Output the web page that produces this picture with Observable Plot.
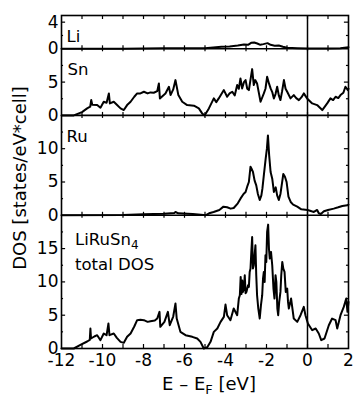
<!DOCTYPE html>
<html><head><meta charset="utf-8">
<script src="https://cdn.jsdelivr.net/npm/d3@7"></script>
<script src="https://cdn.jsdelivr.net/npm/@observablehq/plot@0.6"></script>
<style>
body{margin:0;background:#fff;}
svg{font-family:"DejaVu Sans",sans-serif;}
</style>
</head><body><div id="chart"></div>
<script>
// ---- data (E - E_F in eV, DOS in states/eV*cell) ----
const liE = [-12,-9,-8,-7,-6,-5,-4.6,-4.2,-3.8,-3.4,-3.1,-2.9,-2.75,-2.6,-2.45,-2.3,-2.15,-1.95,-1.8,-1.6,-1.4,-1.2,-1.0,-0.5,0,1,1.6,2];
const liDOS = [0,0,0.05,0.1,0.1,0.1,0.2,0.3,0.35,0.5,0.65,0.6,0.9,0.95,0.8,0.6,0.7,0.85,0.6,0.45,0.5,0.3,0.15,0.1,0.05,0.05,0.1,0.25];

const snE = [-12,-11.4,-11.0,-10.75,-10.6,-10.55,-10.5,-10.26,-10.1,-9.94,-9.8,-9.69,-9.64,-9.45,-9.3,-9.12,-8.96,-8.8,-8.63,-8.45,-8.31,-8.15,-7.98,-7.8,-7.66,-7.5,-7.33,-7.25,-7.2,-6.93,-6.76,-6.68,-6.55,-6.44,-6.3,-6.11,-5.87,-5.54,-5.3,-5.14,-5.02,-4.81,-4.57,-4.45,-4.33,-4.08,-3.92,-3.8,-3.67,-3.55,-3.43,-3.35,-3.27,-3.19,-3.1,-3.02,-2.94,-2.86,-2.7,-2.62,-2.55,-2.46,-2.38,-2.29,-2.13,-2.05,-1.97,-1.88,-1.8,-1.72,-1.64,-1.56,-1.48,-1.4,-1.32,-1.24,-1.15,-1.07,-0.99,-0.83,-0.67,-0.55,-0.42,-0.3,-0.18,-0.02,0.23,0.47,0.72,0.96,1.12,1.25,1.37,1.5,1.61,1.75,1.85,1.97,2.0];
const snDOS = [0,0,0.5,1.05,1.3,2.3,1.6,1.55,1.15,2.05,1.9,3.3,1.8,2.05,1.6,1.05,0.8,1.55,2.05,2.8,3.3,3.3,3.55,3.3,3.45,3.4,3.65,4.8,2.55,3.3,4.3,3.05,3.9,5.3,3.05,2.05,1.55,1.45,1.05,0.3,0,1.05,2.55,2.0,2.55,3.8,2.8,3.3,3.55,3.0,4.55,4.0,5.55,4.05,5.0,5.3,4.0,3.8,6.95,4.55,5.3,4.8,3.5,2.05,3.3,4.0,5.8,4.8,4.05,3.5,2.55,3.2,4.3,3.0,2.3,3.6,5.3,4.0,3.55,2.55,3.05,2.6,2.3,2.7,3.3,2.55,1.8,1.55,0.8,1.8,2.55,2.3,2.8,2.6,3.05,3.4,4.3,3.8,4.0];

const ruE = [-12,-9,-8,-7,-6.5,-6.44,-6.3,-5.6,-5.2,-4.98,-4.8,-4.58,-4.3,-4.1,-3.92,-3.75,-3.6,-3.4,-3.27,-3.12,-3.02,-2.92,-2.86,-2.78,-2.73,-2.66,-2.58,-2.5,-2.42,-2.33,-2.25,-2.2,-2.12,-2.04,-1.98,-1.93,-1.87,-1.8,-1.72,-1.64,-1.55,-1.48,-1.4,-1.32,-1.26,-1.18,-1.1,-1.02,-0.93,-0.82,-0.7,-0.5,-0.3,0,0.2,0.31,0.47,0.55,0.65,0.8,1.0,1.28,1.5,1.7,1.94,2];
const ruDOS = [0,0.05,0.15,0.25,0.35,0.5,0.3,0.2,0.1,0,0.3,0.5,0.8,1.3,1.2,1.0,1.1,1.8,2.5,3.2,3.5,4.5,5.0,7.3,7.0,6.5,5.2,4.5,3.2,2.3,3.0,4.0,6.3,8.5,10,12.0,9.0,6.5,5.5,3.5,4.2,3.0,2.3,3.2,4.5,6.2,5.8,5.0,2.8,2.0,1.6,1.3,0.9,0.8,0.6,0.5,0.8,0.3,0.2,0.6,0.8,1.0,1.2,1.4,1.5,1.6];

const totE = [-12,-11.4,-11.1,-10.75,-10.62,-10.59,-10.56,-10.4,-10.26,-10.1,-9.94,-9.8,-9.71,-9.66,-9.45,-9.3,-9.12,-8.96,-8.8,-8.63,-8.45,-8.31,-8.15,-7.98,-7.8,-7.66,-7.45,-7.33,-7.22,-7.18,-6.98,-6.81,-6.72,-6.55,-6.44,-6.38,-6.2,-5.95,-5.62,-5.38,-5.22,-5.06,-4.89,-4.73,-4.57,-4.4,-4.24,-4.08,-4.0,-3.92,-3.76,-3.6,
  -3.43,-3.35,-3.3,-3.26,-3.22,-3.18,-3.15,-3.1,-3.06,-3.02,-2.98,-2.9,-2.86,-2.82,-2.78,-2.74,-2.7,-2.66,-2.62,-2.58,-2.54,-2.5,-2.46,-2.4,-2.33,-2.27,-2.21,-2.17,-2.13,-2.09,-2.05,-2.01,-1.97,-1.92,-1.88,-1.84,-1.78,-1.72,-1.66,-1.61,-1.56,-1.52,-1.47,-1.43,-1.38,-1.32,-1.28,-1.23,-1.18,-1.12,-1.06,-0.99,-0.95,-0.91,
  -0.8,-0.67,-0.5,-0.34,-0.18,-0.1,0.02,0.23,0.4,0.55,0.67,0.83,1.04,1.2,1.37,1.45,1.61,1.77,1.89,1.95,2.0];
const totDOS = [0,0,0.5,1.05,1.3,3.0,1.5,1.8,2.0,1.25,2.25,2.0,3.75,2.0,2.25,1.6,1.0,0.85,1.75,2.25,3.3,4.25,4.3,4.25,4.0,4.1,4.2,4.5,5.5,3.25,4.0,5.5,3.5,4.8,6.75,4.5,2.5,2.0,1.75,1.5,1.0,0,0.2,1.0,2.5,3.0,4.0,4.75,6.6,5.0,4.25,6.0,
  5.0,7.5,8.0,10.75,8.2,10.2,8.5,9.0,11.0,8.3,8.5,9.5,9.25,11.5,12.0,14.5,16.75,12.0,12.5,14.0,15.5,11.0,8.0,6.0,4.5,6.5,8.0,10.5,11.5,10.0,14.0,13.0,17.5,18.6,15.0,13.5,14.5,12.5,9.0,7.5,11.0,10.0,6.0,5.0,7.0,8.5,11.0,13.0,12.0,11.5,8.5,9.0,7.0,6.0,
  7.5,4.5,4.0,5.0,6.25,5.0,3.75,2.75,3.0,2.25,1.25,1.5,3.5,4.5,4.25,3.0,5.0,6.25,7.5,5.5,7.0];

const xTickLabels = [-12,-10,-8,-6,-4,-2,0,2];
const xMinorTicks = [-11,-10,-9,-8,-7,-6,-5,-4,-3,-2,-1,0,1];
const liTicks = [0,4], snTicks = [0,5], ruTicks = [0,5,10], totTicks = [0,5,10,15];
const panelNames = ["Li","Sn","Ru"];

// ---- stacked layout (each panel shares the same DOS unit scale) ----
const heights = {tot:20, ru:15, sn:10, li:5};
const off = {tot:0, ru:20, sn:35, li:45};
const yTop = 50;

const rows = (E, V, o) => E.map((e,i)=>({E:e, y:V[i]+o}));

const yTickPos = [], yTickTxt = [];
function addTicks(ts, o){ ts.forEach(t=>{ yTickPos.push(o+t); yTickTxt.push(String(t)); }); }
addTicks(totTicks, off.tot); addTicks(ruTicks, off.ru); addTicks(snTicks, off.sn); addTicks(liTicks, off.li);
const labelOf = new Map(yTickPos.map((p,i)=>[p, yTickTxt[i]]));

const majorY = yTickPos.filter(p=>![0,20,35,45].includes(p));
const minorY = [];
[[totTicks,off.tot,heights.tot],[ruTicks,off.ru,heights.ru],[snTicks,off.sn,heights.sn]].forEach(([ts,o,h])=>{
  ts.forEach(t=>{ if (t+2.5 < h) minorY.push(o+t+2.5); });
});
minorY.push(off.li+2);

const boundaries = [off.ru, off.sn, off.li];
const xTickRows = [];
boundaries.forEach(b=> xMinorTicks.forEach(x=> xTickRows.push({x, y1:b-0.45, y2:b+0.45})));
xMinorTicks.forEach(x=> xTickRows.push({x, y1:yTop-0.6, y2:yTop}));
xMinorTicks.forEach(x=> xTickRows.push({x, y1:0, y2:0.6}));

const lw = 2;
const plot = Plot.plot({
  width: 354, height: 400,
  marginLeft: 61, marginRight: 6, marginTop: 15, marginBottom: 52,
  style: {fontSize: "17px", fontFamily: "DejaVu Sans, sans-serif", background: "#fff", color: "#000", overflow: "visible"},
  x: {domain: [-12, 2], ticks: xTickLabels, tickSize: 0, tickPadding: 5, tickFormat: d=>String(d), label: null},
  y: {domain: [0, yTop], ticks: yTickPos, tickSize: 0, tickPadding: 3, tickFormat: d=>labelOf.get(d), label: null},
  marks: [
    Plot.line(rows(totE, totDOS, off.tot), {x:"E", y:"y", stroke:"#000", strokeWidth: lw, strokeLinejoin:"round"}),
    Plot.line(rows(ruE, ruDOS, off.ru), {x:"E", y:"y", stroke:"#000", strokeWidth: lw, strokeLinejoin:"round"}),
    Plot.line(rows(snE, snDOS, off.sn), {x:"E", y:"y", stroke:"#000", strokeWidth: lw, strokeLinejoin:"round"}),
    Plot.line(rows(liE, liDOS, off.li), {x:"E", y:"y", stroke:"#000", strokeWidth: lw, strokeLinejoin:"round"}),
    Plot.ruleY(boundaries, {stroke:"#000", strokeWidth: 1.6}),
    Plot.ruleX([0], {stroke:"#000", strokeWidth: 1.5}),
    Plot.ruleX(xTickRows, {x:"x", y1:"y1", y2:"y2", stroke:"#000", strokeWidth: 1.2}),
    Plot.ruleY(majorY, {x1:-12, x2:-11.8, stroke:"#000", strokeWidth: 1.2}),
    Plot.ruleY(majorY, {x1:1.8, x2:2, stroke:"#000", strokeWidth: 1.2}),
    Plot.ruleY(minorY, {x1:-12, x2:-11.9, stroke:"#000", strokeWidth: 1.2}),
    Plot.ruleY(minorY, {x1:1.9, x2:2, stroke:"#000", strokeWidth: 1.2}),
    Plot.frame({stroke:"#000", strokeWidth: 1.6})
  ]
});
document.getElementById("chart").appendChild(plot);

// ---- annotations ----
const svg = d3.select(plot);
const g = svg.append("g").attr("fill", "#000").attr("text-anchor", "start")
  .style("font-family", "DejaVu Sans, sans-serif");
const pl = [[panelNames[0], 66.5, 42], [panelNames[1], 67.5, 75], [panelNames[2], 66.5, 142]];
pl.forEach(([t,x,y])=> g.append("text").attr("x", x).attr("y", y).attr("text-anchor","start").style("font-size","16.5px").text(t));
const comp = g.append("text").attr("x", 75).attr("y", 245).attr("text-anchor","start").style("font-size","16.5px");
comp.append("tspan").text("LiRuSn");
comp.append("tspan").attr("dy", 4).style("font-size","12px").text("4");
g.append("text").attr("x", 75).attr("y", 270).attr("text-anchor","start").style("font-size","16.5px").text("total DOS");

const xl = g.append("text").attr("x", 209).attr("y", 390).attr("text-anchor","middle").style("font-size","18px");
xl.append("tspan").text("E \u2013 E");
xl.append("tspan").attr("dy", 4).style("font-size","13px").text("F");
xl.append("tspan").attr("dy", -4).text(" [eV]");

g.append("text").attr("transform","translate(25.5,178) rotate(-90)").attr("text-anchor","middle")
  .style("font-size","18px").text("DOS [states/eV*cell]");
</script>
</body></html>
